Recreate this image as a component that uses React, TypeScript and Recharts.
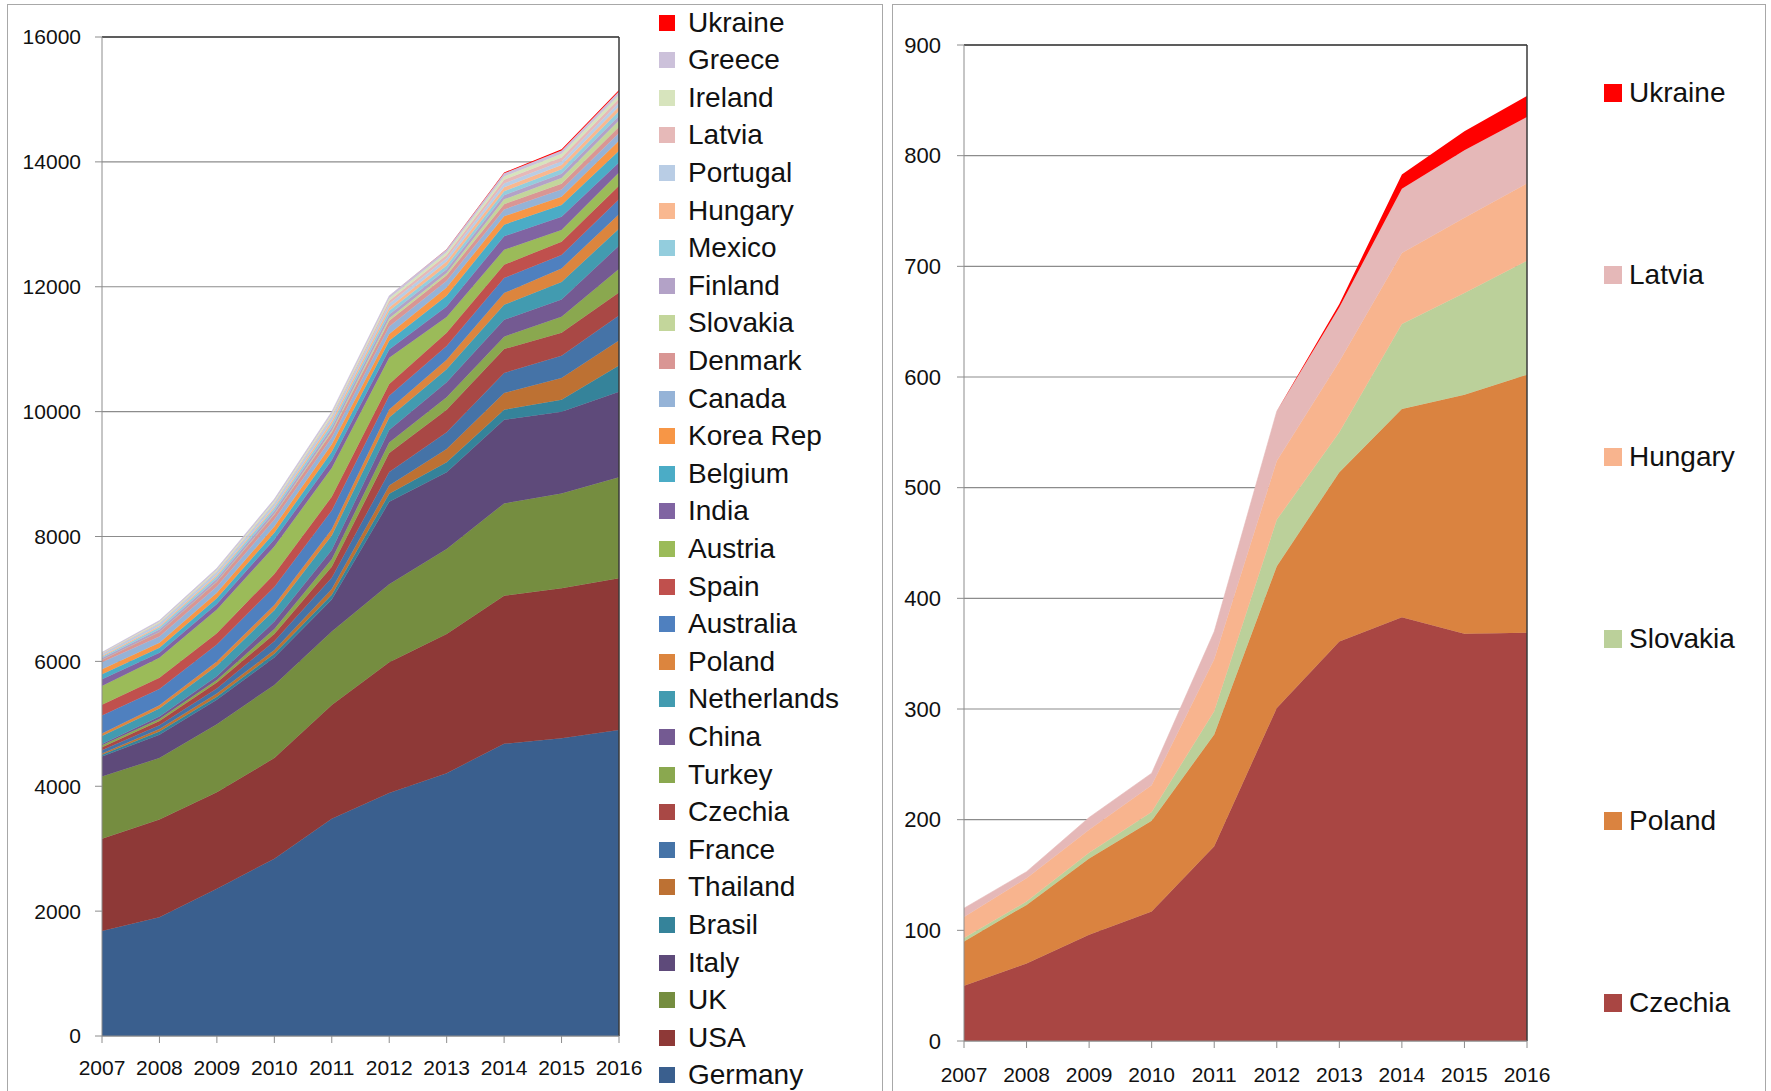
import React from 'react';
import { AreaChart, Area, XAxis, YAxis, CartesianGrid, ReferenceLine } from 'recharts';

const years = ['2007', '2008', '2009', '2010', '2011', '2012', '2013', '2014', '2015', '2016'];

const germany = [1680, 1900, 2360, 2840, 3480, 3890, 4210, 4680, 4770, 4900];
const usa = [1478, 1566, 1543, 1612, 1823, 2096, 2230, 2370, 2400, 2430];
const uk = [997, 986, 1092, 1170, 1176, 1249, 1360, 1480, 1520, 1620];
const italy = [320, 374, 390, 440, 510, 1320, 1230, 1340, 1310, 1370];
const brasil = [30, 50, 50, 60, 80, 130, 160, 160, 190, 420];
const thailand = [20, 40, 50, 60, 90, 130, 210, 270, 347, 400];
const france = [50, 60, 80, 140, 180, 220, 270, 320, 358, 400];
const czechia = [50, 70, 96, 117, 176, 301, 361, 383, 368, 369];
const turkey = [30, 30, 40, 80, 120, 170, 200, 198, 256, 374];
const china = [20, 40, 60, 120, 150, 200, 240, 270, 278, 374];
const netherlands = [130, 130, 170, 180, 230, 200, 206, 240, 280, 273];
const poland = [40, 53, 69, 82, 101, 128, 153, 188, 216, 233];
const australia = [290, 260, 270, 290, 300, 220, 220, 240, 214, 240];
const spain = [170, 180, 180, 210, 220, 190, 214, 214, 214, 214];
const austria = [300, 320, 380, 440, 460, 420, 250, 240, 187, 214];
const india = [110, 80, 90, 110, 130, 130, 170, 214, 214, 160];
const belgium = [80, 80, 90, 110, 130, 140, 170, 187, 187, 187];
const korea = [80, 80, 90, 100, 120, 110, 134, 134, 134, 160];
const canada = [110, 100, 100, 110, 110, 120, 110, 110, 115, 125];
const denmark = [40, 70, 75, 80, 85, 90, 85, 85, 90, 95];
const slovakia = [3, 3, 5, 8, 21, 42, 36, 77, 92, 103];
const finland = [25, 40, 45, 50, 55, 60, 60, 65, 70, 75];
const mexico = [20, 35, 40, 45, 55, 60, 60, 65, 70, 80];
const hungary = [19, 21, 21, 24, 47, 53, 64, 64, 68, 70];
const portugal = [25, 40, 45, 50, 55, 60, 55, 60, 62, 65];
const latvia = [8, 6, 11, 11, 25, 45, 49, 58, 61, 60];
const ireland = [10, 20, 25, 30, 35, 40, 45, 55, 58, 62];
const greece = [10, 20, 25, 30, 35, 40, 45, 50, 55, 58];
const ukraine = [0, 0, 0, 0, 0, 0, 3, 13, 17, 19];

const leftTicks = [0, 2000, 4000, 6000, 8000, 10000, 12000, 14000, 16000];
const rightTicks = [0, 100, 200, 300, 400, 500, 600, 700, 800, 900];

// bottom to top stacking order
const leftSeries = [
  { name: 'Germany', values: germany, color: '#3A5F8E' },
  { name: 'USA', values: usa, color: '#8E3937' },
  { name: 'UK', values: uk, color: '#758D40' },
  { name: 'Italy', values: italy, color: '#5E4A7A' },
  { name: 'Brasil', values: brasil, color: '#35839A' },
  { name: 'Thailand', values: thailand, color: '#BD7133' },
  { name: 'France', values: france, color: '#4573A7' },
  { name: 'Czechia', values: czechia, color: '#A94845' },
  { name: 'Turkey', values: turkey, color: '#8AA84F' },
  { name: 'China', values: china, color: '#745A92' },
  { name: 'Netherlands', values: netherlands, color: '#429BB0' },
  { name: 'Poland', values: poland, color: '#DC853E' },
  { name: 'Australia', values: australia, color: '#4F80BF' },
  { name: 'Spain', values: spain, color: '#C0504D' },
  { name: 'Austria', values: austria, color: '#9BBB59' },
  { name: 'India', values: india, color: '#8064A2' },
  { name: 'Belgium', values: belgium, color: '#4BACC6' },
  { name: 'Korea Rep', values: korea, color: '#F79646' },
  { name: 'Canada', values: canada, color: '#95B3D7' },
  { name: 'Denmark', values: denmark, color: '#D99694' },
  { name: 'Slovakia', values: slovakia, color: '#C3D69B' },
  { name: 'Finland', values: finland, color: '#B3A2C7' },
  { name: 'Mexico', values: mexico, color: '#93CDDD' },
  { name: 'Hungary', values: hungary, color: '#F9B890' },
  { name: 'Portugal', values: portugal, color: '#B9CDE5' },
  { name: 'Latvia', values: latvia, color: '#E6B9B8' },
  { name: 'Ireland', values: ireland, color: '#D7E4BD' },
  { name: 'Greece', values: greece, color: '#CCC1DA' },
  { name: 'Ukraine', values: ukraine, color: '#FF0000' },
];

const rightSeries = [
  { name: 'Czechia', values: czechia, color: '#A94643' },
  { name: 'Poland', values: poland, color: '#DA8340' },
  { name: 'Slovakia', values: slovakia, color: '#BBD09A' },
  { name: 'Hungary', values: hungary, color: '#F8B48E' },
  { name: 'Latvia', values: latvia, color: '#E5B8B8' },
  { name: 'Ukraine', values: ukraine, color: '#FF0000' },
];

const buildRows = (series) =>
  years.map((y, i) => {
    const row = { year: y };
    series.forEach((s) => {
      row[s.name] = s.values[i];
    });
    return row;
  });

const leftData = buildRows(leftSeries);
const rightData = buildRows(rightSeries);

const FONT = '"Liberation Sans", Arial, sans-serif';
const GRID = '#8c8c8c';
const FRAME = '#3a3a3a';

const LegendList = ({ items, left, top, step, box, gap, fontSize }) => (
  <div style={{ position: 'absolute', left, top: 0 }}>
    {items.map((s, i) => (
      <div
        key={s.name}
        style={{
          position: 'absolute',
          left: 0,
          top: top + i * step - fontSize * 0.6,
          height: fontSize * 1.2,
          display: 'flex',
          alignItems: 'center',
          whiteSpace: 'nowrap',
        }}
      >
        <div style={{ width: box, height: box, background: s.color, marginRight: gap, flex: 'none' }} />
        <span style={{ fontSize, color: '#111', fontFamily: FONT, lineHeight: 1 }}>{s.name}</span>
      </div>
    ))}
  </div>
);

export default function App() {
  const leftLegend = [...leftSeries].reverse();
  const rightLegend = [...rightSeries].reverse();
  return (
    <div
      style={{
        position: 'absolute',
        left: 0,
        top: 0,
        width: 1771,
        height: 1091,
        overflow: 'hidden',
        background: '#fff',
        fontFamily: FONT,
      }}
    >
      <div style={{ position: 'absolute', left: 7, top: 4, width: 874, height: 1110, border: '1px solid #a8a8a8' }} />
      <div style={{ position: 'absolute', left: 892, top: 4, width: 872, height: 1110, border: '1px solid #a8a8a8' }} />

      <div style={{ position: 'absolute', left: 0, top: 0 }}>
        <AreaChart width={880} height={1091} data={leftData} margin={{ top: 37, right: 261, bottom: 15, left: 8 }}>
          <CartesianGrid horizontal vertical={false} stroke={GRID} strokeWidth={1.2} />
          <XAxis
            dataKey="year"
            interval={0}
            height={40}
            tickSize={7}
            tickMargin={17}
            axisLine={{ stroke: GRID }}
            tickLine={{ stroke: GRID }}
            tick={{ fill: '#111', fontSize: 21, fontFamily: FONT }}
          />
          <YAxis
            domain={[0, 16000]}
            ticks={leftTicks}
            interval={0}
            width={94}
            tickSize={7}
            tickMargin={14}
            axisLine={{ stroke: GRID }}
            tickLine={{ stroke: GRID }}
            tick={{ fill: '#111', fontSize: 21, fontFamily: FONT }}
          />
          {leftSeries.map((s) => (
            <Area
              key={s.name}
              type="linear"
              dataKey={s.name}
              stackId="1"
              stroke={s.name === 'Ukraine' ? 'none' : s.color}
              strokeWidth={0.6}
              fill={s.color}
              fillOpacity={1}
              dot={false}
              activeDot={false}
              isAnimationActive={false}
            />
          ))}
          <ReferenceLine y={16000} stroke={FRAME} strokeWidth={1.5} />
          <ReferenceLine x="2016" stroke={FRAME} strokeWidth={1.5} />
        </AreaChart>
      </div>

      <div style={{ position: 'absolute', left: 890, top: 0 }}>
        <AreaChart width={881} height={1091} data={rightData} margin={{ top: 45, right: 244, bottom: 10, left: 4 }}>
          <CartesianGrid horizontal vertical={false} stroke={GRID} strokeWidth={1.2} />
          <XAxis
            dataKey="year"
            interval={0}
            height={40}
            tickSize={7}
            tickMargin={19}
            axisLine={{ stroke: GRID }}
            tickLine={{ stroke: GRID }}
            tick={{ fill: '#111', fontSize: 21, fontFamily: FONT }}
          />
          <YAxis
            domain={[0, 900]}
            ticks={rightTicks}
            interval={0}
            width={70}
            tickSize={7}
            tickMargin={16}
            axisLine={{ stroke: GRID }}
            tickLine={{ stroke: GRID }}
            tick={{ fill: '#111', fontSize: 22, fontFamily: FONT }}
          />
          {rightSeries.map((s) => (
            <Area
              key={s.name}
              type="linear"
              dataKey={s.name}
              stackId="1"
              stroke={s.name === 'Ukraine' ? 'none' : s.color}
              strokeWidth={0.6}
              fill={s.color}
              fillOpacity={1}
              dot={false}
              activeDot={false}
              isAnimationActive={false}
            />
          ))}
          <ReferenceLine y={900} stroke={FRAME} strokeWidth={1.5} />
          <ReferenceLine x="2016" stroke={FRAME} strokeWidth={1.5} />
        </AreaChart>
      </div>

      <LegendList items={leftLegend} left={659} top={22.6} step={37.6} box={16} gap={13} fontSize={28} />
      <LegendList items={rightLegend} left={1604} top={92.6} step={182} box={18} gap={7} fontSize={28} />
    </div>
  );
}
